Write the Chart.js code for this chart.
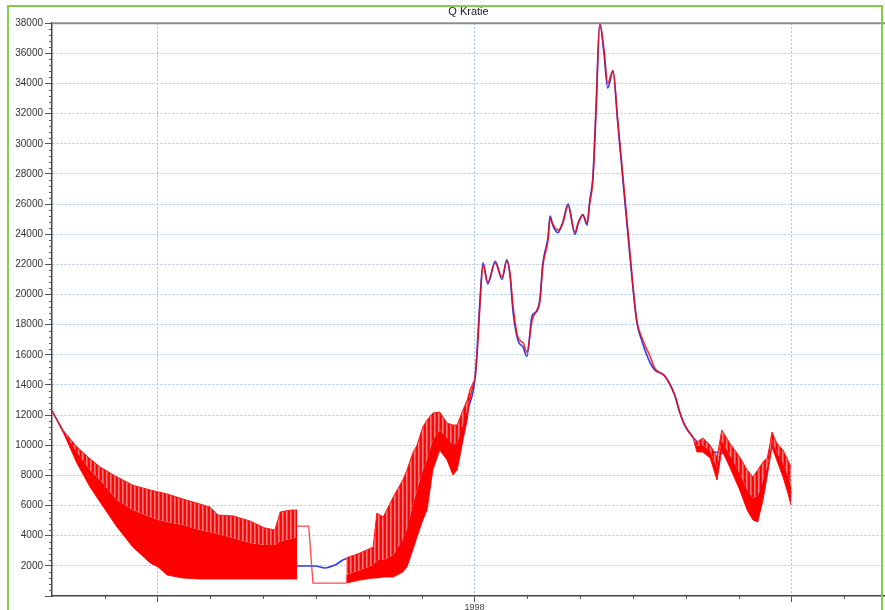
<!DOCTYPE html>
<html>
<head>
<meta charset="utf-8">
<script src="https://cdn.jsdelivr.net/npm/chart.js@4.4.0/dist/chart.umd.min.js"></script>
<style>
  html, body { margin: 0; padding: 0; background: #fff; }
  #wrap { position: relative; width: 885px; height: 610px; overflow: hidden; }
  #frame { position: absolute; left: 7px; top: 5px; width: 872px; height: 700px; border: 2px solid #86cc4c; pointer-events: none; }
</style>
</head>
<body>
<div id="wrap">
  <canvas id="c" width="885" height="610"></canvas>
  <div id="frame"></div>
</div>
<script>
// x in months from the start of the run, ticks each month, gridlines at 2 / 8 / 14
const xTickValues = [2, 8, 14];
const xTickLabels = ['', '1998', ''];

// tidal band, first low-flow stretch (top edge, top of dense part, bottom edge)
const band1X   = [0, 0.21, 0.47, 0.72, 0.91, 1.23, 1.53, 1.86, 2.01, 2.18, 2.48, 2.80, 2.99, 3.14, 3.43, 3.75, 4.03, 4.22, 4.32, 4.51, 4.64];
const band1Top = [12300, 11000, 9900, 9100, 8550, 7900, 7350, 7030, 6900, 6770, 6430, 6100, 5900, 5370, 5310, 4970, 4510, 4380, 5570, 5700, 5700];
const band1Mid = [12300, 10940, 9550, 8360, 7690, 6370, 5700, 5240, 5040, 4910, 4710, 4380, 4240, 4110, 3850, 3520, 3380, 3380, 3650, 3780, 3910];
const band1Low = [12300, 10880, 8820, 7230, 6230, 4580, 3250, 2190, 1920, 1390, 1190, 1130, 1130, 1130, 1130, 1130, 1130, 1130, 1130, 1130, 1130];

// red step between the two bands
const stepX = [4.64, 4.86, 4.94, 5.57];
const stepY = [4640, 4640, 860, 860];

// tidal band, rising limb
const band2X   = [5.57, 5.83, 6.08, 6.15, 6.27, 6.46, 6.64, 6.72, 6.83, 6.91, 7.02, 7.10, 7.21, 7.34, 7.48, 7.59, 7.67, 7.72, 7.78, 7.86, 7.91, 8.01];
const band2Top = [2520, 2850, 3250, 5500, 5240, 6570, 7690, 8360, 9480, 10010, 11210, 11670, 12140, 12200, 11470, 11340, 11340, 11800, 12340, 13000, 13660, 14460];
const band2Mid = [1390, 1720, 2060, 2390, 2390, 2720, 3710, 4380, 6040, 7030, 8360, 9020, 10350, 11010, 10480, 10010, 10150, 10680, 11340, 12340, 13330, 14460];
const band2Low = [860, 1060, 1190, 1190, 1260, 1260, 1590, 1920, 3050, 3910, 5040, 5700, 8360, 9680, 9020, 8030, 8360, 9220, 10350, 11670, 13000, 14460];

// flood season, red (computed) and blue
const floodX = [8.01, 8.05, 8.10, 8.16, 8.25, 8.39, 8.52, 8.61, 8.67, 8.73, 8.82, 8.92, 8.99, 9.09, 9.18, 9.24, 9.29, 9.39, 9.43, 9.48,
                9.58, 9.67, 9.77, 9.90, 9.96, 10.05, 10.13, 10.18, 10.24, 10.30, 10.37, 10.45, 10.52, 10.62, 10.71, 10.85, 10.94, 11.07, 11.17, 11.32,
                11.41, 11.60, 11.79, 11.89, 11.98, 12.13];
const floodRed = [14460, 16120, 19170, 21950, 20820, 22090, 21160, 22220, 21420, 19170, 17180, 16780, 16180, 18300, 18970, 19630, 21820, 23610, 25070, 24670,
                  24270, 24740, 25870, 24140, 24740, 25270, 24740, 26060, 27590, 32230, 38000, 36210, 34020, 34880, 31570, 26260, 22810, 18300, 17110, 15920,
                  15120, 14590, 13330, 12140, 11340, 10550];
const floodBlue = [14460, 16500, 19500, 22100, 20700, 22200, 21000, 22300, 21300, 18800, 16980, 16500, 15900, 18600, 18900, 19800, 22000, 23800, 25200, 24600,
                   24100, 24800, 26000, 24000, 24700, 25300, 24600, 26200, 27800, 32400, 38000, 36000, 33700, 34800, 31400, 26000, 22600, 18200, 16900, 15500,
                   15000, 14600, 13300, 12100, 11300, 10550];

// tidal band, recession
const band3X   = [12.13, 12.21, 12.32, 12.46, 12.59, 12.68, 12.83, 13.02, 13.16, 13.27, 13.36, 13.46, 13.55, 13.63, 13.72, 13.84, 13.93, 13.99];
const band3Top = [10550, 10210, 10480, 10010, 9220, 11010, 10150, 9220, 8360, 7890, 8360, 8890, 9220, 10880, 10150, 9680, 9020, 8560];
const band3Mid = [10550, 9950, 10010, 9620, 8490, 10350, 9350, 8160, 7030, 6500, 6630, 7630, 8690, 10350, 9550, 8820, 7960, 7300];
const band3Low = [10550, 9550, 9550, 9150, 7690, 9680, 8560, 7030, 5700, 5040, 4910, 6370, 8160, 9880, 9020, 7890, 6830, 6040];

// blue outside the flood season (mostly hidden under the red band)
const blueStartX = [0, 0.21, 0.47, 0.72, 1.10, 1.86, 2.80, 3.75, 4.64, 4.98, 5.17, 5.36, 5.55, 6.11, 6.59, 7.02, 7.21, 7.34, 7.48, 7.59, 7.72, 7.86];
const blueStartY = [12300, 10930, 9400, 8100, 6600, 4200, 3050, 2390, 1990, 1990, 1860, 2060, 2450, 2650, 3380, 8000, 10000, 10800, 10400, 10000, 10700, 12300];
const blueEndX = [12.45, 12.83, 13.16, 13.45, 13.63, 13.99];
const blueEndY = [9600, 9300, 6800, 7400, 10200, 6800];

const ctx = document.getElementById('c').getContext('2d');

// streaky red/pink texture for the sparse upper part of the tidal band
function makeStreaks() {
    const p = document.createElement('canvas');
    p.width = 4; p.height = 1;
    const g = p.getContext('2d');
    ['#ff0000', '#ff1010', '#ff7a7a', '#ff4646'].forEach((c, i) => { g.fillStyle = c; g.fillRect(i, 0, 1, 1); });
    return ctx.createPattern(p, 'repeat');
}
const streaks = makeStreaks();

const pts = (xs, ys) => xs.map((x, i) => ({ x: x, y: ys[i] }));

function band(xs, top, mid, low) {
    return [
        { data: pts(xs, top), borderColor: '#ff1a1a', borderWidth: 1, backgroundColor: streaks, fill: '+1', order: 2 },
        { data: pts(xs, mid), borderColor: 'rgba(0,0,0,0)', borderWidth: 0, backgroundColor: '#ff0000', fill: '+1', order: 2 },
        { data: pts(xs, low), borderColor: '#ff2020', borderWidth: 1, fill: false, order: 2 }
    ];
}

const blueData = pts(blueStartX, blueStartY).concat(pts(floodX, floodBlue), pts(blueEndX, blueEndY));

const datasets = [
    { data: pts(floodX, floodRed), borderColor: 'rgba(255,0,0,0.8)', borderWidth: 1.6, cubicInterpolationMode: 'monotone', fill: false, order: 0 },
    { data: pts(stepX, stepY), borderColor: 'rgba(255,40,40,0.85)', borderWidth: 1.3, fill: false, order: 0 },
    ...band(band1X, band1Top, band1Mid, band1Low),
    ...band(band2X, band2Top, band2Mid, band2Low),
    ...band(band3X, band3Top, band3Mid, band3Low),
    { data: blueData, borderColor: '#2a3cf0', borderWidth: 1.6, cubicInterpolationMode: 'monotone', fill: false, order: 5 }
];

const extras = {
    id: 'extras',
    afterDraw(chart) {
        const { ctx, chartArea: a, scales: { x, y } } = chart;
        ctx.save();
        ctx.strokeStyle = '#555';
        ctx.lineWidth = 1;
        ctx.beginPath();
        for (let v = 400; v < 38000; v += 400) {
            if (v % 2000 === 0) continue;
            const py = Math.round(y.getPixelForValue(v)) + 0.5;
            ctx.moveTo(a.left - 3, py); ctx.lineTo(a.left, py);
        }
        for (let m = 1; m <= 15; m++) {
            if (xTickValues.includes(m)) continue;
            const px = Math.round(x.getPixelForValue(m)) + 0.5;
            ctx.moveTo(px, a.bottom); ctx.lineTo(px, a.bottom + 3);
        }
        ctx.stroke();
        // top frame of the plot
        ctx.strokeStyle = '#8c8c8c';
        ctx.lineWidth = 2;
        ctx.beginPath();
        ctx.moveTo(a.left, a.top); ctx.lineTo(a.right, a.top);
        ctx.stroke();
        ctx.restore();
    }
};

new Chart(ctx, {
    type: 'line',
    data: { datasets: datasets },
    options: {
        responsive: false,
        devicePixelRatio: 1,
        animation: false,
        elements: { point: { radius: 0 }, line: { tension: 0 } },
        plugins: {
            legend: { display: false },
            tooltip: { enabled: false },
            title: {
                display: true, fullSize: false, text: 'Q Kratie', color: '#1a1a1a',
                font: { family: 'Liberation Sans, Arial', size: 11, weight: 'normal' }, padding: { top: 5, bottom: 5 }
            }
        },
        scales: {
            x: {
                type: 'linear', min: 0, max: 15.77,
                afterBuildTicks: s => { s.ticks = xTickValues.map(v => ({ value: v })); },
                afterFit: s => { s.height = 14; },
                ticks: {
                    autoSkip: false, maxRotation: 0, padding: 0, color: '#444',
                    font: { family: 'Liberation Sans, Arial', size: 9 },
                    callback: v => { const i = xTickValues.indexOf(v); return i >= 0 ? xTickLabels[i] : ''; }
                },
                grid: { color: '#9fc0e6', lineWidth: 1, tickColor: '#555', tickLength: 6 },
                border: { color: '#444', width: 1.5, dash: [2, 2] }
            },
            y: {
                min: 0, max: 38000,
                afterFit: s => { s.width = 52; },
                ticks: {
                    stepSize: 2000, autoSkip: false, padding: 2, color: '#333',
                    font: { family: 'Liberation Sans, Arial', size: 10 },
                    callback: v => v === 0 ? '' : String(v)
                },
                grid: { color: c => (c.tick && c.tick.value === 0) ? 'rgba(0,0,0,0)' : '#a8c6e8', lineWidth: 1, tickColor: '#555', tickLength: 7 },
                border: { color: '#444', width: 1.5, dash: [2, 2] }
            }
        }
    },
    plugins: [extras]
});
</script>
</body>
</html>
